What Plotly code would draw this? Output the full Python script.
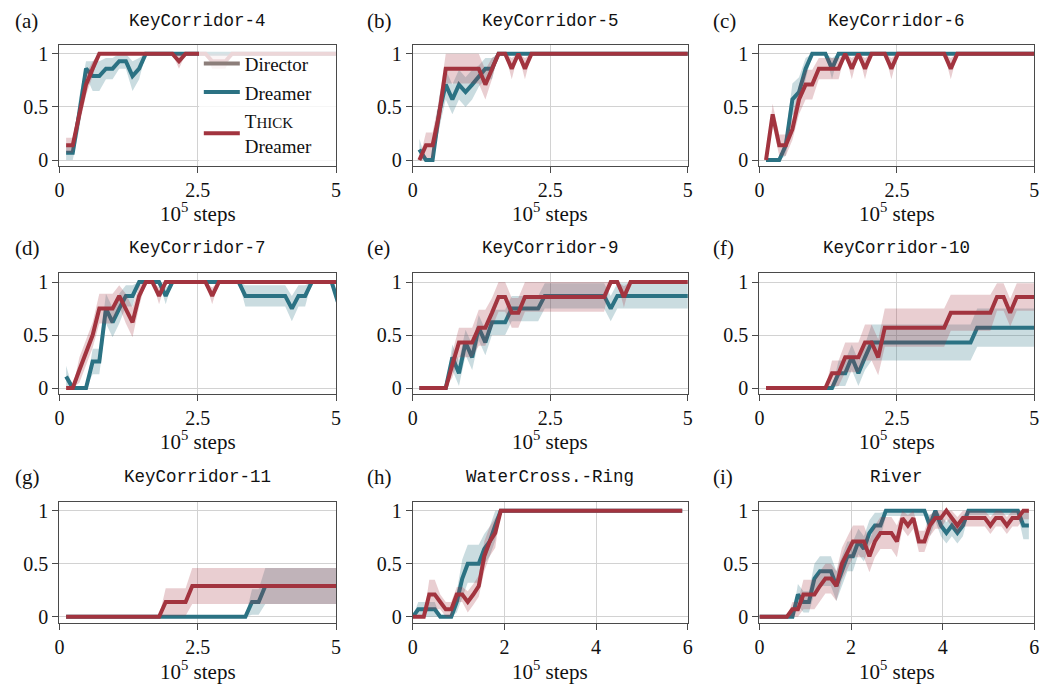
import numpy as np
import plotly.graph_objects as go

# ---------------------------------------------------------------- data
# Evaluation points (x in units of 1e5 environment steps)
X_KC = [0.12, 0.24, 0.36, 0.48, 0.60, 0.72, 0.84, 0.96, 1.08, 1.20,
        1.32, 1.44, 1.56, 1.68, 1.80, 1.92, 2.04, 2.16, 2.28, 2.40,
        2.52, 2.64, 2.76, 2.88, 3.00, 3.12, 3.24, 3.36, 3.48, 3.60,
        3.72, 3.84, 3.96, 4.08, 4.20, 4.32, 4.44, 4.56, 4.68, 4.80,
        4.92, 5.04]
X_LONG = [0.00, 0.12, 0.24, 0.36, 0.48, 0.60, 0.72, 0.84, 0.96, 1.08,
          1.20, 1.32, 1.44, 1.56, 1.68, 1.80, 1.92, 2.04, 2.16, 2.28,
          2.40, 2.52, 2.64, 2.76, 2.88, 3.00, 3.12, 3.24, 3.36, 3.48,
          3.60, 3.72, 3.84, 3.96, 4.08, 4.20, 4.32, 4.44, 4.56, 4.68,
          4.80, 4.92, 5.04, 5.16, 5.28, 5.40, 5.52, 5.64, 5.76, 5.88]

TITLES = ["KeyCorridor-4", "KeyCorridor-5", "KeyCorridor-6",
          "KeyCorridor-7", "KeyCorridor-9", "KeyCorridor-10",
          "KeyCorridor-11", "WaterCross.-Ring", "River"]
PANEL_TAGS = ["(a)", "(b)", "(c)", "(d)", "(e)", "(f)", "(g)", "(h)", "(i)"]

# Dreamer: mean success and band half-width
DREAMER_A = [0.07, 0.07, 0.45, 0.86, 0.79, 0.79, 0.86, 0.86, 0.93, 0.93,
             0.79, 0.86, 1, 1, 1, 1, 1, 1, 1, 1,
             1, 1, 1, 1, 1, 1, 1, 1, 1, 1,
             1, 1, 1, 1, 1, 1, 1, 1, 1, 1,
             1, 1]
DREAMER_A_ERR = [0.07, 0.07, 0.15, 0.07, 0.14, 0.14, 0.10, 0.10, 0.07, 0.07,
                 0.14, 0.10, 0, 0, 0, 0, 0, 0, 0, 0,
                 0, 0, 0, 0, 0, 0, 0, 0, 0, 0,
                 0, 0, 0, 0, 0, 0, 0, 0, 0, 0,
                 0, 0]
THICK_A = [0.14, 0.14, 0.43, 0.71, 0.86, 1, 1, 1, 1, 1,
           1, 1, 1, 1, 1, 1, 1, 0.93, 1, 1,
           1, 1, 0.93, 0.93, 0.93, 1, 1, 1, 1, 1,
           1, 1, 1, 1, 1, 1, 1, 1, 1, 1,
           1, 1]
THICK_A_ERR = [0.07, 0.07, 0.10, 0.10, 0.07, 0, 0, 0, 0, 0,
               0, 0, 0, 0, 0, 0, 0, 0.07, 0, 0,
               0, 0, 0.07, 0.07, 0.07, 0, 0, 0, 0, 0,
               0, 0, 0, 0, 0, 0, 0, 0, 0, 0,
               0, 0]

DREAMER_B = [0.10, 0, 0, 0.45, 0.71, 0.57, 0.71, 0.64, 0.71, 0.79,
             0.86, 0.86, 1, 1, 1, 1, 1, 1, 1, 1,
             1, 1, 1, 1, 1, 1, 1, 1, 1, 1,
             1, 1, 1, 1, 1, 1, 1, 1, 1, 1,
             1, 1]
DREAMER_B_ERR = [0.10, 0, 0, 0.15, 0.14, 0.14, 0.14, 0.14, 0.14, 0.10,
                 0.10, 0.10, 0, 0, 0, 0, 0, 0, 0, 0,
                 0, 0, 0, 0, 0, 0, 0, 0, 0, 0,
                 0, 0, 0, 0, 0, 0, 0, 0, 0, 0,
                 0, 0]
THICK_B = [0, 0.14, 0.14, 0.43, 0.86, 0.86, 0.86, 0.86, 0.86, 0.86,
           0.71, 0.86, 1, 1, 0.86, 1, 0.86, 1, 1, 1,
           1, 1, 1, 1, 1, 1, 1, 1, 1, 1,
           1, 1, 1, 1, 1, 1, 1, 1, 1, 1,
           1, 1]
THICK_B_ERR = [0, 0.12, 0.12, 0.14, 0.14, 0.14, 0.14, 0.14, 0.14, 0.14,
               0.14, 0.10, 0, 0, 0.10, 0, 0.10, 0, 0, 0,
               0, 0, 0, 0, 0, 0, 0, 0, 0, 0,
               0, 0, 0, 0, 0, 0, 0, 0, 0, 0,
               0, 0]

DREAMER_C = [0, 0, 0, 0.14, 0.57, 0.64, 0.86, 1, 1, 1,
             0.86, 1, 1, 1, 1, 1, 1, 1, 1, 1,
             1, 1, 1, 1, 1, 1, 1, 1, 1, 1,
             1, 1, 1, 1, 1, 1, 1, 1, 1, 1,
             1, 1]
DREAMER_C_ERR = [0, 0, 0, 0.10, 0.15, 0.14, 0.10, 0, 0, 0,
                 0.10, 0, 0, 0, 0, 0, 0, 0, 0, 0,
                 0, 0, 0, 0, 0, 0, 0, 0, 0, 0,
                 0, 0, 0, 0, 0, 0, 0, 0, 0, 0,
                 0, 0]
THICK_C = [0, 0.43, 0.14, 0.14, 0.29, 0.57, 0.71, 0.71, 0.86, 0.86,
           0.86, 0.86, 1, 0.86, 1, 0.86, 1, 1, 1, 0.86,
           1, 1, 1, 1, 1, 1, 1, 1, 0.86, 1,
           1, 1, 1, 1, 1, 1, 1, 1, 1, 1,
           1, 1]
THICK_C_ERR = [0, 0.10, 0.10, 0.10, 0.10, 0.14, 0.14, 0.14, 0.10, 0.10,
               0.10, 0.10, 0, 0.10, 0, 0.10, 0, 0, 0, 0.10,
               0, 0, 0, 0, 0, 0, 0, 0, 0.10, 0,
               0, 0, 0, 0, 0, 0, 0, 0, 0, 0,
               0, 0]

DREAMER_D = [0.11, 0, 0, 0, 0.25, 0.25, 0.75, 0.62, 0.75, 0.87,
             0.87, 1, 1, 1, 1, 0.87, 1, 1, 1, 1,
             1, 1, 1, 1, 1, 1, 1, 0.87, 0.87, 0.87,
             0.87, 0.87, 0.87, 0.87, 0.75, 0.87, 0.87, 1, 1, 1,
             1, 0.80]
DREAMER_D_ERR = [0.10, 0, 0, 0, 0.12, 0.12, 0.14, 0.14, 0.14, 0.10,
                 0.10, 0, 0, 0, 0, 0.08, 0, 0, 0, 0,
                 0, 0, 0, 0, 0, 0, 0, 0.10, 0.10, 0.10,
                 0.10, 0.10, 0.10, 0.10, 0.12, 0.10, 0.10, 0, 0, 0,
                 0, 0.10]
THICK_D = [0, 0, 0.17, 0.33, 0.50, 0.75, 0.75, 0.75, 0.87, 0.75,
           0.62, 0.87, 1, 1, 0.87, 1, 1, 1, 1, 1,
           1, 1, 0.87, 1, 1, 1, 1, 1, 1, 1,
           1, 1, 1, 1, 1, 1, 1, 1, 1, 1,
           1, 1]
THICK_D_ERR = [0, 0, 0.12, 0.12, 0.12, 0.14, 0.14, 0.14, 0.10, 0.14,
               0.14, 0.10, 0, 0, 0.08, 0, 0, 0, 0, 0,
               0, 0, 0.08, 0, 0, 0, 0, 0, 0, 0,
               0, 0, 0, 0, 0, 0, 0, 0, 0, 0,
               0, 0]

DREAMER_E = [0, 0, 0, 0, 0, 0.29, 0.14, 0.43, 0.29, 0.57,
             0.43, 0.62, 0.62, 0.62, 0.75, 0.75, 0.75, 0.75, 0.75, 0.87,
             0.87, 0.87, 0.87, 0.87, 0.87, 0.87, 0.87, 0.87, 0.87, 0.75,
             0.87, 0.87, 0.87, 0.87, 0.87, 0.87, 0.87, 0.87, 0.87, 0.87,
             0.87, 0.87]
DREAMER_E_ERR = [0, 0, 0, 0, 0, 0.12, 0.12, 0.12, 0.12, 0.12,
                 0.12, 0.12, 0.12, 0.12, 0.12, 0.12, 0.12, 0.12, 0.12, 0.12,
                 0.12, 0.12, 0.12, 0.12, 0.12, 0.12, 0.12, 0.12, 0.12, 0.12,
                 0.12, 0.12, 0.12, 0.12, 0.12, 0.12, 0.12, 0.12, 0.12, 0.12,
                 0.12, 0.12]
THICK_E = [0, 0, 0, 0, 0, 0.22, 0.43, 0.43, 0.43, 0.57,
           0.57, 0.71, 0.86, 0.86, 0.71, 0.71, 0.86, 0.86, 0.86, 0.86,
           0.86, 0.86, 0.86, 0.86, 0.86, 0.86, 0.86, 0.86, 0.86, 1,
           1, 0.86, 1, 1, 1, 1, 1, 1, 1, 1,
           1, 1]
THICK_E_ERR = [0, 0, 0, 0, 0, 0.12, 0.14, 0.14, 0.14, 0.17,
               0.17, 0.14, 0.14, 0.14, 0.14, 0.14, 0.14, 0.14, 0.14, 0.14,
               0.14, 0.14, 0.14, 0.14, 0.14, 0.14, 0.14, 0.14, 0.14, 0,
               0, 0.10, 0, 0, 0, 0, 0, 0, 0, 0,
               0, 0]

DREAMER_F = [0, 0, 0, 0, 0, 0, 0, 0, 0, 0,
             0, 0.14, 0.14, 0.29, 0.14, 0.29, 0.43, 0.43, 0.43, 0.43,
             0.43, 0.43, 0.43, 0.43, 0.43, 0.43, 0.43, 0.43, 0.43, 0.43,
             0.43, 0.43, 0.57, 0.57, 0.57, 0.57, 0.57, 0.57, 0.57, 0.57,
             0.57, 0.57]
DREAMER_F_ERR = [0, 0, 0, 0, 0, 0, 0, 0, 0, 0,
                 0, 0.12, 0.12, 0.12, 0.12, 0.12, 0.17, 0.17, 0.17, 0.17,
                 0.17, 0.17, 0.17, 0.17, 0.17, 0.17, 0.17, 0.17, 0.17, 0.17,
                 0.17, 0.17, 0.18, 0.18, 0.18, 0.18, 0.18, 0.18, 0.18, 0.18,
                 0.18, 0.18]
THICK_F = [0, 0, 0, 0, 0, 0, 0, 0, 0, 0,
           0.14, 0.14, 0.29, 0.29, 0.29, 0.43, 0.43, 0.29, 0.57, 0.57,
           0.57, 0.57, 0.57, 0.57, 0.57, 0.57, 0.57, 0.57, 0.71, 0.71,
           0.71, 0.71, 0.71, 0.71, 0.71, 0.86, 0.86, 0.71, 0.86, 0.86,
           0.86, 0.86]
THICK_F_ERR = [0, 0, 0, 0, 0, 0, 0, 0, 0, 0,
               0.12, 0.12, 0.14, 0.14, 0.14, 0.17, 0.17, 0.17, 0.18, 0.18,
               0.18, 0.18, 0.18, 0.18, 0.18, 0.18, 0.18, 0.18, 0.17, 0.17,
               0.17, 0.17, 0.17, 0.17, 0.17, 0.13, 0.13, 0.13, 0.13, 0.13,
               0.13, 0.13]

DREAMER_G = [0, 0, 0, 0, 0, 0, 0, 0, 0, 0,
             0, 0, 0, 0, 0, 0, 0, 0, 0, 0,
             0, 0, 0, 0, 0, 0, 0, 0, 0.14, 0.14,
             0.29, 0.29, 0.29, 0.29, 0.29, 0.29, 0.29, 0.29, 0.29, 0.29,
             0.29, 0.29]
DREAMER_G_ERR = [0, 0, 0, 0, 0, 0, 0, 0, 0, 0,
                 0, 0, 0, 0, 0, 0, 0, 0, 0, 0,
                 0, 0, 0, 0, 0, 0, 0, 0, 0.12, 0.12,
                 0.17, 0.17, 0.17, 0.17, 0.17, 0.17, 0.17, 0.17, 0.17, 0.17,
                 0.17, 0.17]
THICK_G = [0, 0, 0, 0, 0, 0, 0, 0, 0, 0,
           0, 0, 0, 0, 0, 0.14, 0.14, 0.14, 0.14, 0.29,
           0.29, 0.29, 0.29, 0.29, 0.29, 0.29, 0.29, 0.29, 0.29, 0.29,
           0.29, 0.29, 0.29, 0.29, 0.29, 0.29, 0.29, 0.29, 0.29, 0.29,
           0.29, 0.29]
THICK_G_ERR = [0, 0, 0, 0, 0, 0, 0, 0, 0, 0,
               0, 0, 0, 0, 0, 0.13, 0.13, 0.13, 0.13, 0.17,
               0.17, 0.17, 0.17, 0.17, 0.17, 0.17, 0.17, 0.17, 0.17, 0.17,
               0.17, 0.17, 0.17, 0.17, 0.17, 0.17, 0.17, 0.17, 0.17, 0.17,
               0.17, 0.17]

DREAMER_H = [0, 0.07, 0.07, 0.07, 0.07, 0, 0, 0, 0.14, 0.36,
             0.50, 0.50, 0.50, 0.64, 0.71, 0.86, 1, 1, 1, 1,
             1, 1, 1, 1, 1, 1, 1, 1, 1, 1,
             1, 1, 1, 1, 1, 1, 1, 1, 1, 1,
             1, 1, 1, 1, 1, 1, 1, 1, 1, 1]
DREAMER_H_ERR = [0, 0.07, 0.07, 0.07, 0.07, 0, 0, 0, 0.10, 0.18,
                 0.18, 0.18, 0.18, 0.14, 0.14, 0.14, 0, 0, 0, 0,
                 0, 0, 0, 0, 0, 0, 0, 0, 0, 0,
                 0, 0, 0, 0, 0, 0, 0, 0, 0, 0,
                 0, 0, 0, 0, 0, 0, 0, 0, 0, 0]
THICK_H = [0, 0, 0, 0.21, 0.21, 0.14, 0.07, 0.07, 0.21, 0.21,
           0.14, 0.21, 0.29, 0.57, 0.71, 0.79, 1, 1, 1, 1,
           1, 1, 1, 1, 1, 1, 1, 1, 1, 1,
           1, 1, 1, 1, 1, 1, 1, 1, 1, 1,
           1, 1, 1, 1, 1, 1, 1, 1, 1, 1]
THICK_H_ERR = [0, 0, 0, 0.14, 0.14, 0.07, 0.07, 0.07, 0.07, 0.07,
               0.10, 0.10, 0.10, 0.14, 0.14, 0.14, 0, 0, 0, 0,
               0, 0, 0, 0, 0, 0, 0, 0, 0, 0,
               0, 0, 0, 0, 0, 0, 0, 0, 0, 0,
               0, 0, 0, 0, 0, 0, 0, 0, 0, 0]

DREAMER_I = [0, 0, 0, 0, 0, 0, 0, 0.21, 0.14, 0.14,
             0.36, 0.43, 0.43, 0.43, 0.29, 0.43, 0.57, 0.57, 0.71, 0.64,
             0.79, 0.86, 0.86, 1, 1, 1, 1, 1, 1, 1,
             1, 0.86, 1, 0.86, 0.79, 0.86, 0.79, 0.86, 1, 1,
             1, 1, 1, 1, 1, 1, 1, 1, 0.86, 0.86]
DREAMER_I_ERR = [0, 0, 0, 0, 0, 0, 0, 0.10, 0.10, 0.10,
                 0.14, 0.14, 0.14, 0.14, 0.14, 0.14, 0.14, 0.14, 0.12, 0.12,
                 0.12, 0.12, 0.12, 0.05, 0.05, 0.05, 0.05, 0.05, 0.05, 0.05,
                 0.05, 0.10, 0.10, 0.10, 0.10, 0.10, 0.10, 0.10, 0.04, 0.04,
                 0.04, 0.04, 0.04, 0.04, 0.04, 0.04, 0.04, 0.04, 0.13, 0.13]
THICK_I = [0, 0, 0, 0, 0, 0, 0.07, 0.07, 0.21, 0.21,
           0.21, 0.29, 0.36, 0.36, 0.29, 0.50, 0.60, 0.71, 0.71, 0.71,
           0.57, 0.71, 0.79, 0.79, 0.79, 0.71, 0.93, 0.86, 0.93, 0.71,
           0.71, 0.86, 0.93, 0.93, 1, 0.93, 0.86, 0.93, 0.93, 0.93,
           0.93, 0.93, 0.86, 0.93, 0.93, 0.86, 0.93, 0.93, 1, 1]
THICK_I_ERR = [0, 0, 0, 0, 0, 0, 0.07, 0.07, 0.14, 0.14,
               0.14, 0.14, 0.14, 0.14, 0.14, 0.15, 0.15, 0.15, 0.15, 0.15,
               0.15, 0.15, 0.15, 0.15, 0.15, 0.15, 0.10, 0.10, 0.10, 0.10,
               0.10, 0.10, 0.10, 0.10, 0.08, 0.08, 0.08, 0.08, 0.08, 0.08,
               0.08, 0.08, 0.08, 0.08, 0.08, 0.08, 0.08, 0.08, 0.08, 0.08]

PANELS = [
    (X_KC, DREAMER_A, DREAMER_A_ERR, THICK_A, THICK_A_ERR),
    (X_KC, DREAMER_B, DREAMER_B_ERR, THICK_B, THICK_B_ERR),
    (X_KC, DREAMER_C, DREAMER_C_ERR, THICK_C, THICK_C_ERR),
    (X_KC, DREAMER_D, DREAMER_D_ERR, THICK_D, THICK_D_ERR),
    (X_KC, DREAMER_E, DREAMER_E_ERR, THICK_E, THICK_E_ERR),
    (X_KC, DREAMER_F, DREAMER_F_ERR, THICK_F, THICK_F_ERR),
    (X_KC, DREAMER_G, DREAMER_G_ERR, THICK_G, THICK_G_ERR),
    (X_LONG, DREAMER_H, DREAMER_H_ERR, THICK_H, THICK_H_ERR),
    (X_LONG, DREAMER_I, DREAMER_I_ERR, THICK_I, THICK_I_ERR),
]
X_MAX = [5, 5, 5, 5, 5, 5, 5, 6, 6]
X_TICKS_5 = [0, 2.5, 5]
X_TICKS_6 = [0, 2, 4, 6]
Y_TICKS = [0, 0.5, 1]

# ---------------------------------------------------------------- style
W, H = 1047, 689
SERIF = "Liberation Serif"
MONO = "Liberation Mono"
C_DIRECTOR = "#8c7e7a"
C_DREAMER = "#2b7283"
C_THICK = "#a2343f"
BAND_DREAMER = "rgba(43,114,131,0.25)"
BAND_THICK = "rgba(162,52,63,0.24)"
FRAME = "#4a4a4a"
GRID = "#d2d2d2"
PAD = "&nbsp;" * 4  # right padding inside the legend box

# pixel boxes of the nine axes: (left, right) columns, (top, bottom) rows
COLS = [(55.0, 334.3), (411.7, 689.3), (761.7, 1039.3)]
ROWS = [(43.4, 165.6), (274.1, 395.9), (505.0, 627.0)]
Y_RANGE = [-0.055, 1.083]


def px_x(v):
    return v / W


def px_y(v):
    return 1 - v / H


fig = go.Figure()

for k, (xs, d_mean, d_err, t_mean, t_err) in enumerate(PANELS):
    r, c = divmod(k, 3)
    ax = "" if k == 0 else str(k + 1)
    xref, yref = "x" + ax, "y" + ax
    xs = np.asarray(xs, dtype=float)

    for mean, err, band, color, name, rank in (
        (d_mean, d_err, BAND_DREAMER, C_DREAMER, "Dreamer" + PAD, 2),
        (t_mean, t_err, BAND_THICK, C_THICK,
         "T<span style='font-size:15px'>HICK</span><br>Dreamer" + PAD, 3),
    ):
        mean = np.asarray(mean, dtype=float)
        err = np.asarray(err, dtype=float)
        lo = np.clip(mean - err, 0, 1)
        hi = np.clip(mean + err, 0, 1)
        fig.add_trace(go.Scatter(
            x=np.concatenate([xs, xs[::-1]]),
            y=np.concatenate([hi, lo[::-1]]),
            fill="toself", fillcolor=band, mode="lines",
            line=dict(width=0), hoverinfo="skip", showlegend=False,
            xaxis=xref, yaxis=yref))
        fig.add_trace(go.Scatter(
            x=xs, y=mean, mode="lines",
            line=dict(color=color, width=4, shape="linear"),
            name=name, legendgroup=str(rank), legendrank=rank,
            showlegend=(k == 0), xaxis=xref, yaxis=yref))

    x0, x1 = COLS[c]
    y0, y1 = ROWS[r]
    ticks = X_TICKS_6 if X_MAX[k] == 6 else X_TICKS_5
    axis_common = dict(
        showline=True, linecolor=FRAME, linewidth=1.2, mirror=True,
        ticks="outside", ticklen=6, tickwidth=1.2, tickcolor=FRAME,
        showgrid=True, gridcolor=GRID, gridwidth=1, zeroline=False,
        tickfont=dict(family=SERIF, size=20, color="#111"),
    )
    fig.layout["xaxis" + ax] = dict(
        domain=[px_x(x0), px_x(x1)], range=[0, X_MAX[k]], anchor=yref,
        tickvals=ticks, ticktext=[f"{t:g}" for t in ticks], **axis_common)
    fig.layout["yaxis" + ax] = dict(
        domain=[px_y(y1), px_y(y0)], range=Y_RANGE, anchor=xref,
        tickvals=Y_TICKS, ticktext=["0", "0.5", "1"], **axis_common)

    cx = (x0 + x1) / 2
    title_y = [19, 249, 480][r]
    label_y = [213, 443, 675][r]
    tag_x = [8, 363, 713][c]
    fig.add_annotation(x=px_x(cx), y=px_y(title_y), xref="paper", yref="paper",
                       text=TITLES[k], showarrow=False, xanchor="center",
                       yanchor="middle",
                       font=dict(family=MONO, size=17.5, color="#111"))
    fig.add_annotation(x=px_x(tag_x), y=px_y(title_y), xref="paper", yref="paper",
                       text=PANEL_TAGS[k], showarrow=False, xanchor="left",
                       yanchor="middle",
                       font=dict(family=SERIF, size=21, color="#111"))
    fig.add_annotation(x=px_x(cx), y=px_y(label_y), xref="paper", yref="paper",
                       text="10<sup>5</sup> steps", showarrow=False,
                       xanchor="center", yanchor="middle",
                       font=dict(family=SERIF, size=21, color="#111"))

# legend-only entry for the Director baseline
fig.add_trace(go.Scatter(x=[None], y=[None], mode="lines",
                         line=dict(color=C_DIRECTOR, width=4),
                         name="Director" + PAD, legendgroup="1",
                         legendrank=1, showlegend=True))

fig.update_layout(
    width=W, height=H, margin=dict(l=0, r=0, t=0, b=0),
    paper_bgcolor="white", plot_bgcolor="white",
    showlegend=True,
    legend=dict(x=px_x(334), y=px_y(43), xanchor="right", yanchor="top",
                bgcolor="rgba(255,255,255,0.8)", borderwidth=0,
                font=dict(family=SERIF, size=19, color="#111"),
                tracegroupgap=1, itemwidth=36),
)

fig.write_html("out.html")
